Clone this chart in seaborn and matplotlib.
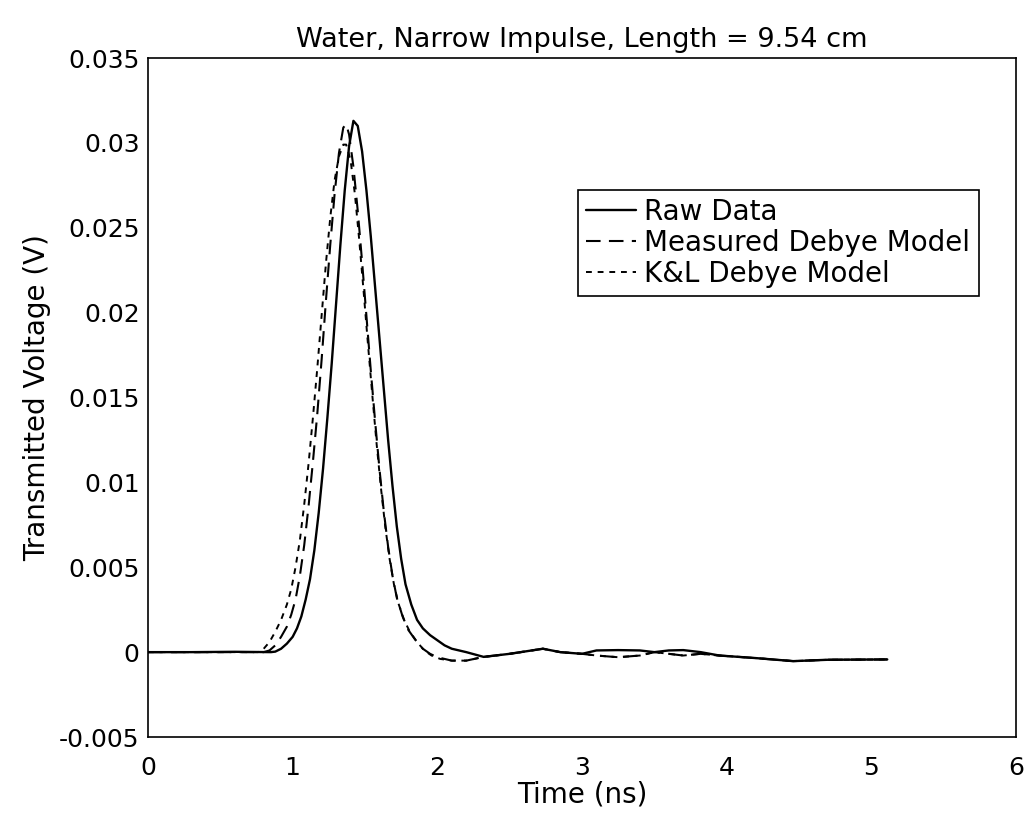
import pandas as pd
import matplotlib
matplotlib.use('Agg')
import matplotlib.pyplot as plt
import seaborn as sns

# Values
raw_t = [0.0, 0.3, 0.6, 0.85, 0.88, 0.92, 0.96, 1.00, 1.03, 1.06, 1.09, 1.12, 1.15, 1.18, 1.21,
         1.24, 1.27, 1.30, 1.33, 1.36, 1.39, 1.42, 1.45, 1.48, 1.51, 1.54, 1.57, 1.60, 1.63, 1.66,
         1.69, 1.72, 1.75, 1.78, 1.82, 1.86, 1.90, 1.95, 2.00, 2.05, 2.10, 2.20, 2.32, 2.50, 2.73,
         2.85, 3.00, 3.10, 3.25, 3.40, 3.50, 3.60, 3.70, 3.82, 3.95, 4.20, 4.46, 4.70, 5.11]
raw_v = [0.0, 0.0, 0.00002, 0.0, 0.00003, 0.0002, 0.0005, 0.0009, 0.0014, 0.0021, 0.0031, 0.0043,
         0.0060, 0.0082, 0.0108, 0.0138, 0.0170, 0.0205, 0.0240, 0.0272, 0.0298, 0.0313, 0.0310,
         0.0295, 0.0272, 0.0245, 0.0215, 0.0185, 0.0155, 0.0125, 0.0098, 0.0074, 0.0055, 0.0040,
         0.0028, 0.0019, 0.0014, 0.0010, 0.0007, 0.0004, 0.0002, 0.0, -0.00028, -0.0001, 0.0002,
         0.0, -0.0001, 0.0001, 0.00012, 0.0001, 0.0, 0.0001, 0.00012, 0.0, -0.0002, -0.00035,
         -0.00053, -0.00045, -0.00043]

meas_t = [0.0, 0.3, 0.6, 0.80, 0.84, 0.88, 0.92, 0.96, 0.99, 1.02, 1.05, 1.08, 1.11, 1.14, 1.17,
          1.20, 1.23, 1.26, 1.29, 1.32, 1.35, 1.37, 1.39, 1.42, 1.45, 1.48, 1.51, 1.54, 1.57, 1.60,
          1.63, 1.66, 1.69, 1.72, 1.76, 1.80, 1.85, 1.90, 1.95, 2.00, 2.05, 2.10, 2.20, 2.32, 2.50,
          2.73, 2.85, 3.00, 3.10, 3.25, 3.40, 3.50, 3.60, 3.70, 3.82, 3.95, 4.20, 4.46, 4.70, 5.11]
meas_v = [0.0, 0.0, 0.0, 0.0, 0.0001, 0.0004, 0.0009, 0.0015, 0.0022, 0.0031, 0.0045, 0.0063,
          0.0086, 0.0112, 0.0140, 0.0172, 0.0207, 0.0240, 0.0270, 0.0294, 0.0309, 0.0311, 0.0305,
          0.0286, 0.0260, 0.0230, 0.0198, 0.0166, 0.0136, 0.0108, 0.0083, 0.0062, 0.0045, 0.0032,
          0.0021, 0.0013, 0.0007, 0.0002, -0.0001, -0.0003, -0.0004, -0.0005, -0.0005, -0.00028,
          -0.0001, 0.0002, 0.0, -0.0001, -0.0002, -0.0003, -0.0002, 0.0, -0.0001, -0.0002, -0.0001,
          -0.0002, -0.00035, -0.00053, -0.00045, -0.00043]

kl_t = [0.0, 0.3, 0.6, 0.76, 0.80, 0.84, 0.88, 0.92, 0.96, 0.99, 1.02, 1.05, 1.08, 1.11, 1.14,
        1.17, 1.20, 1.23, 1.26, 1.29, 1.32, 1.35, 1.37, 1.40, 1.43, 1.46, 1.49, 1.52, 1.55, 1.58,
        1.61, 1.64, 1.67, 1.70, 1.73, 1.77, 1.81, 1.86, 1.91, 1.96, 2.02, 2.10, 2.20, 2.32, 2.50,
        2.73, 2.85, 3.00, 3.10, 3.25, 3.40, 3.50, 3.60, 3.70, 3.82, 3.95, 4.20, 4.46, 4.70, 5.11]
kl_v = [0.0, 0.0, 0.0, 0.0, 0.0002, 0.0006, 0.0012, 0.0019, 0.0028, 0.0037, 0.0050, 0.0066,
        0.0087, 0.0111, 0.0138, 0.0167, 0.0198, 0.0229, 0.0256, 0.0278, 0.0292, 0.0299, 0.0299,
        0.0290, 0.0270, 0.0243, 0.0213, 0.0182, 0.0152, 0.0123, 0.0097, 0.0074, 0.0055, 0.0040,
        0.0029, 0.0019, 0.0012, 0.0006, 0.0001, -0.0002, -0.0004, -0.0005, -0.0005, -0.00028,
        -0.0001, 0.0002, 0.0, -0.0001, -0.0002, -0.0003, -0.0002, 0.0, -0.0001, -0.0002, -0.0001,
        -0.0002, -0.00035, -0.00053, -0.00045, -0.00043]

x_ticks = [0, 1, 2, 3, 4, 5, 6]
y_ticks = [-0.005, 0, 0.005, 0.01, 0.015, 0.02, 0.025, 0.03, 0.035]
y_tick_labels = ['-0.005', '0', '0.005', '0.01', '0.015', '0.02', '0.025', '0.03', '0.035']

sns.set_style('white')
plt.rcParams['font.family'] = ['DejaVu Sans']

fig = plt.figure(figsize=(10.29, 8.22), dpi=100)
ax = fig.add_axes([0.1438, 0.1034, 0.8436, 0.826])

raw = pd.DataFrame({'t': raw_t, 'v': raw_v})
meas = pd.DataFrame({'t': meas_t, 'v': meas_v})
kl = pd.DataFrame({'t': kl_t, 'v': kl_v})

sns.lineplot(data=raw, x='t', y='v', ax=ax, color='black', linewidth=1.7, sort=False,
             label='Raw Data')
sns.lineplot(data=meas, x='t', y='v', ax=ax, color='black', linewidth=1.5, sort=False,
             label='Measured Debye Model')
ax.lines[-1].set_dashes([7, 4])
sns.lineplot(data=kl, x='t', y='v', ax=ax, color='black', linewidth=1.4, sort=False,
             label='K&L Debye Model')
ax.lines[-1].set_dashes([3, 3])

ax.set_xlim(0, 6)
ax.set_ylim(-0.005, 0.035)
ax.set_xticks(x_ticks)
ax.set_xticklabels([str(t) for t in x_ticks])
ax.set_yticks(y_ticks)
ax.set_yticklabels(y_tick_labels)
ax.tick_params(direction='in', length=6, width=1, labelsize=18, color='black',
               labelcolor='black', pad=6)
ax.tick_params(axis='x', pad=14)
for sp in ax.spines.values():
    sp.set_color('black')
    sp.set_linewidth(1.2)

ax.set_title('Water, Narrow Impulse, Length = 9.54 cm', fontsize=19.5, pad=8, color='black')
ax.set_xlabel('Time (ns)', fontsize=20, labelpad=0, color='black')
ax.set_ylabel('Transmitted Voltage (V)', fontsize=20, labelpad=6, color='black')

leg = ax.legend(loc='upper right', bbox_to_anchor=(0.957, 0.806), fontsize=20, frameon=True,
                fancybox=False, framealpha=1, edgecolor='black', borderpad=0.3,
                labelspacing=0.1, handlelength=1.8, handletextpad=0.3, borderaxespad=0)
leg.get_frame().set_linewidth(1.2)
for txt in leg.get_texts():
    txt.set_color('black')

fig.savefig('out.png', dpi=100)
plt.close(fig)
